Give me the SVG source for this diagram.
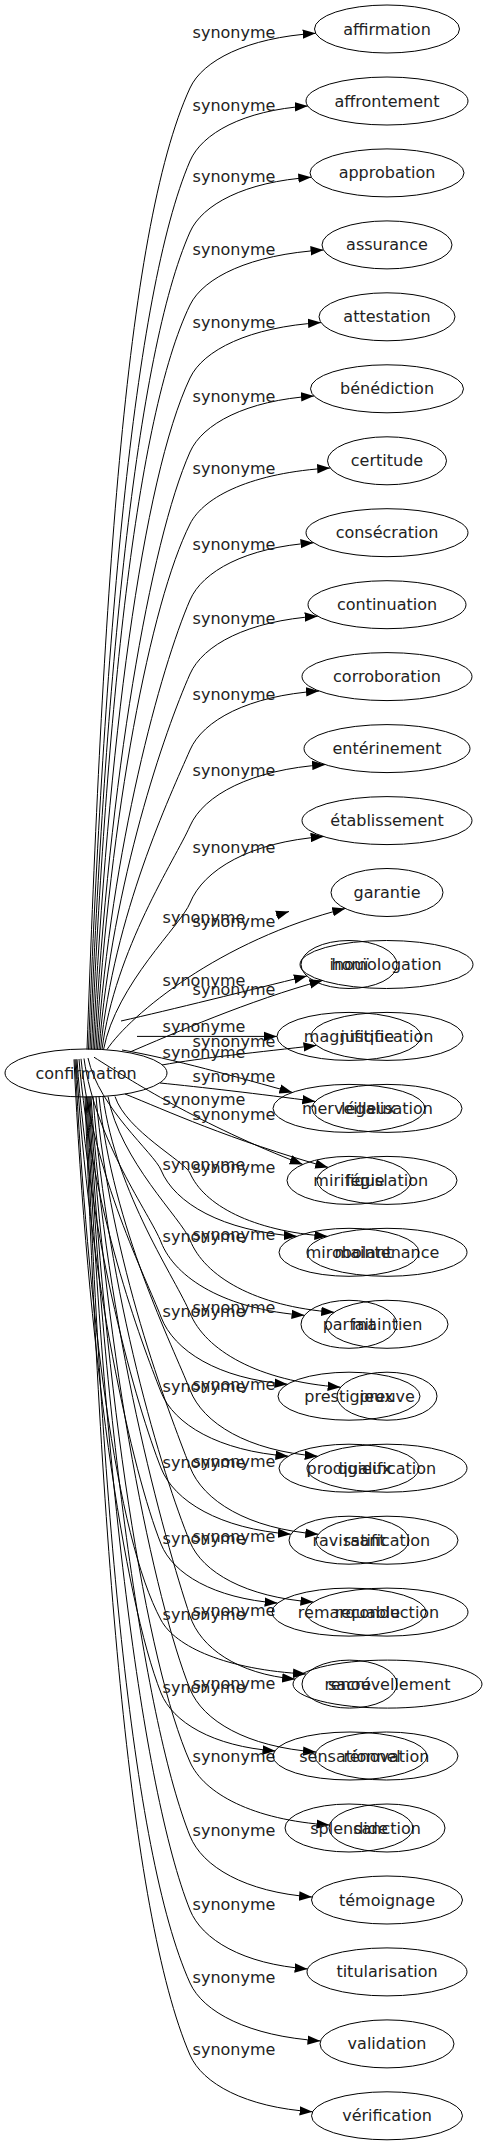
<svg xmlns="http://www.w3.org/2000/svg" width="487" height="2147" viewBox="0 0 487 2147">
<style>
ellipse{fill:none;stroke:#000;stroke-width:1}
text{font-family:"DejaVu Sans",sans-serif;font-size:16px;fill:#222;text-anchor:middle}
.e path{fill:none;stroke:#000;stroke-width:1;marker-end:url(#ah)}
</style>
<defs>
<marker id="ah" viewBox="0 0 13 10" refX="13" refY="5" markerWidth="13" markerHeight="10" markerUnits="userSpaceOnUse" orient="auto"><path d="M0,0.3 L13,5 L0,9.7 z" fill="#000"/></marker>
</defs>
<rect width="487" height="2147" fill="#fff"/>
<g id="edges" class="e">
<path d="M87,1049.5 C102.5,616.8 123.7,232.2 190,88 C202.6,60.65 246.6,37.7 315.7,33.3"/>
<path d="M88.5,1049.5 C103.7,649.7 132.9,294.3 190,161 C201.8,133.5 243,110.4 307.8,106"/>
<path d="M90,1049.5 C105,681.6 135.6,354.6 190,232 C202.1,204.7 244.6,181.7 311.3,177.3"/>
<path d="M91.5,1049.5 C106.3,714.5 135.8,416.7 190,305 C203.4,277.5 250.1,254.4 323.5,250"/>
<path d="M93,1049.5 C107.6,747.3 142.4,478.7 190,378 C203.1,350.3 249,327 321,322.6"/>
<path d="M94.5,1049.5 C108.8,780.6 150.3,541.6 190,452 C202.4,424 245.8,400.5 314,396"/>
<path d="M96,1049.5 C110.1,813 150.5,602.8 190,524 C204,496 253.1,472.5 330.2,468"/>
<path d="M97.5,1049.5 C111.4,847.2 160.9,667.4 190,600 C202.4,571.4 245.6,547.4 313.5,542.8"/>
<path d="M99,1049.5 C112.7,880.5 165.1,730.3 190,674 C202.8,645.1 247.5,620.8 317.7,616.2"/>
<path d="M100.5,1049.5 C113.9,914.7 170.4,794.9 190,750 C202.9,720.5 248,695.7 319,691"/>
<path d="M102,1049.5 C115.2,948.9 175.2,859.5 190,826 C203.5,795.3 250.8,769.5 325.1,764.6"/>
<path d="M103.5,1049.5 C116.5,983.6 181.2,925 190,903 C203.4,869.8 250.1,841.9 323.6,836.6"/>
<path d="M107,1049.5 C130,1015 220,940 345.3,908.5"/>
<path d="M130,1052 C170,1035 250,1000 322.5,980.5"/>
<path d="M162,1065 C200,1058 260,1052 316.5,1045.4"/>
<path d="M160,1083 C200,1087 260,1094 315.3,1101.4"/>
<path d="M125,1094 C165,1110 230,1140 328.2,1167.4"/>
<path d="M115,1096.5 C126.3,1130.9 185,1161.5 190,1173 C203.7,1204.7 251.8,1231.2 327.4,1236.3"/>
<path d="M108,1096.5 C120.3,1161.1 181.4,1218.5 190,1240 C204.4,1276.2 254.9,1306.5 334.2,1312.3"/>
<path d="M103,1096.5 C116.1,1193.9 176.8,1280.5 190,1313 C205.1,1350.1 257.8,1381.3 340.6,1387.2"/>
<path d="M99,1096.5 C112.7,1228.6 173,1346 190,1390 C202.8,1423.1 247.5,1450.9 317.7,1456.2"/>
<path d="M96,1096.5 C110.1,1263.2 168.8,1411.4 190,1467 C202.8,1500.6 247.7,1528.8 318.3,1534.2"/>
<path d="M93,1096.5 C107.6,1297 162.6,1475.2 190,1542 C202.3,1572 245.5,1597.3 313.4,1602.1"/>
<path d="M91,1096.5 C105.9,1330.3 164,1538.1 190,1616 C200.5,1647.6 237.3,1674.1 295.1,1679.1"/>
<path d="M90,1096.5 C105,1363.1 154.4,1600.1 190,1689 C202.6,1720.5 246.7,1747 316,1752"/>
<path d="M89,1096.5 C104.2,1396 145.8,1662.2 190,1762 C204,1793.5 252.8,1820 329.5,1825"/>
<path d="M88,1096.5 C103.3,1429.3 145.6,1725.1 190,1836 C202.2,1866.5 244.9,1892.1 312.1,1897"/>
<path d="M87,1096.5 C102.5,1462.6 141.3,1788 190,1910 C201.8,1939.5 242.9,1964.2 307.6,1968.9"/>
<path d="M86,1096.5 C101.6,1495.4 130.1,1850 190,1983 C203,2012 248.7,2036.3 320.5,2040.9"/>
<path d="M85,1096.5 C100.8,1527.8 127.9,1911.2 190,2055 C202.3,2083.4 245.2,2107.3 312.6,2111.8"/>
<path d="M276,915.5 L289,911.5"/>
<path d="M121,1021 C170,1010 250,990 306.9,976"/>
<path d="M137,1036.4 L277,1036.4"/>
<path d="M122,1050 C170,1058 240,1078 292.4,1092.4"/>
<path d="M94,1057.2 C130,1080 200,1125 302.8,1164.4"/>
<path d="M88,1058 C99,1108.4 154.1,1153.2 161,1170 C174.6,1203.2 222.1,1231 296.8,1236.3"/>
<path d="M84,1058.5 C95.6,1141.1 150.2,1214.5 161,1242 C175.4,1278.7 225.6,1309.4 304.5,1315.3"/>
<path d="M81,1058.8 C93,1175 146.4,1278.3 161,1317 C173.7,1350.6 217.9,1378.8 287.5,1384.2"/>
<path d="M79,1059 C91.3,1208.9 141.2,1342.1 161,1392 C173.7,1424.1 218.3,1451.1 288.4,1456.2"/>
<path d="M77,1059.2 C89.6,1243.2 136.9,1406.7 161,1468 C174,1501.1 219.5,1528.9 290.9,1534.2"/>
<path d="M76,1059.3 C88.8,1277.4 132.3,1471.3 161,1544 C172.7,1573.6 213.5,1598.4 277.6,1603.1"/>
<path d="M75,1059.3 C87.9,1311.6 115.8,1535.9 161,1620 C175.5,1647 226.3,1669.7 306,1674"/>
<path d="M74,1059.4 C87.1,1344.5 123.5,1598 161,1693 C172.5,1722 212.5,1746.4 275.5,1751"/>
</g>
<g id="edge-labels">
<text x="234" y="38">synonyme</text>
<text x="234" y="111">synonyme</text>
<text x="234" y="182">synonyme</text>
<text x="234" y="255">synonyme</text>
<text x="234" y="328">synonyme</text>
<text x="234" y="402">synonyme</text>
<text x="234" y="474">synonyme</text>
<text x="234" y="550">synonyme</text>
<text x="234" y="624">synonyme</text>
<text x="234" y="700">synonyme</text>
<text x="234" y="776">synonyme</text>
<text x="234" y="853">synonyme</text>
<text x="234" y="927">synonyme</text>
<text x="234" y="995">synonyme</text>
<text x="234" y="1047">synonyme</text>
<text x="234" y="1082">synonyme</text>
<text x="234" y="1120">synonyme</text>
<text x="234" y="1173">synonyme</text>
<text x="234" y="1240">synonyme</text>
<text x="234" y="1313">synonyme</text>
<text x="234" y="1390">synonyme</text>
<text x="234" y="1467">synonyme</text>
<text x="234" y="1542">synonyme</text>
<text x="234" y="1616">synonyme</text>
<text x="234" y="1689">synonyme</text>
<text x="234" y="1762">synonyme</text>
<text x="234" y="1836">synonyme</text>
<text x="234" y="1910">synonyme</text>
<text x="234" y="1983">synonyme</text>
<text x="234" y="2055">synonyme</text>
<text x="204" y="923">synonyme</text>
<text x="204" y="986">synonyme</text>
<text x="204" y="1032">synonyme</text>
<text x="204" y="1058">synonyme</text>
<text x="204" y="1105">synonyme</text>
<text x="204" y="1170">synonyme</text>
<text x="204" y="1242">synonyme</text>
<text x="204" y="1317">synonyme</text>
<text x="204" y="1392">synonyme</text>
<text x="204" y="1468">synonyme</text>
<text x="204" y="1544">synonyme</text>
<text x="204" y="1620">synonyme</text>
<text x="204" y="1693">synonyme</text>
</g>
<g id="confirmation"><ellipse cx="86" cy="1073" rx="81" ry="24"/><text x="86" y="1078.5">confirmation</text></g>
<g id="affirmation"><ellipse cx="387" cy="29" rx="72.5" ry="24"/><text x="387" y="34.5">affirmation</text></g>
<g id="affrontement"><ellipse cx="387" cy="101" rx="81" ry="24"/><text x="387" y="106.5">affrontement</text></g>
<g id="approbation"><ellipse cx="387" cy="172.9" rx="77" ry="24"/><text x="387" y="178.4">approbation</text></g>
<g id="assurance"><ellipse cx="387" cy="244.9" rx="65" ry="24"/><text x="387" y="250.4">assurance</text></g>
<g id="attestation"><ellipse cx="387" cy="316.8" rx="68" ry="24"/><text x="387" y="322.3">attestation</text></g>
<g id="benediction"><ellipse cx="387" cy="388.8" rx="76.5" ry="24"/><text x="387" y="394.3">bénédiction</text></g>
<g id="certitude"><ellipse cx="387" cy="460.8" rx="59.5" ry="24"/><text x="387" y="466.3">certitude</text></g>
<g id="consecration"><ellipse cx="387" cy="532.7" rx="81" ry="24"/><text x="387" y="538.2">consécration</text></g>
<g id="continuation"><ellipse cx="387" cy="604.7" rx="79" ry="24"/><text x="387" y="610.2">continuation</text></g>
<g id="corroboration"><ellipse cx="387" cy="676.6" rx="85" ry="24"/><text x="387" y="682.1">corroboration</text></g>
<g id="enterinement"><ellipse cx="387" cy="748.6" rx="83" ry="24"/><text x="387" y="754.1">entérinement</text></g>
<g id="etablissement"><ellipse cx="387" cy="820.6" rx="85" ry="24"/><text x="387" y="826.1">établissement</text></g>
<g id="garantie"><ellipse cx="387" cy="892.5" rx="56" ry="24"/><text x="387" y="898">garantie</text></g>
<g id="homologation"><ellipse cx="386.5" cy="964.5" rx="86.5" ry="24"/><text x="386.5" y="970">homologation</text></g>
<g id="justification"><ellipse cx="387" cy="1036.4" rx="76" ry="24"/><text x="387" y="1041.9">justification</text></g>
<g id="legalisation"><ellipse cx="387" cy="1108.4" rx="75" ry="24"/><text x="387" y="1113.9">légalisation</text></g>
<g id="legislation"><ellipse cx="387" cy="1180.4" rx="70" ry="24"/><text x="387" y="1185.9">législation</text></g>
<g id="maintenance"><ellipse cx="387" cy="1252.3" rx="80" ry="24"/><text x="387" y="1257.8">maintenance</text></g>
<g id="maintien"><ellipse cx="387" cy="1324.3" rx="61" ry="24"/><text x="387" y="1329.8">maintien</text></g>
<g id="preuve"><ellipse cx="387" cy="1396.2" rx="50" ry="24"/><text x="387" y="1401.7">preuve</text></g>
<g id="qualification"><ellipse cx="387" cy="1468.2" rx="80" ry="24"/><text x="387" y="1473.7">qualification</text></g>
<g id="ratification"><ellipse cx="387" cy="1540.2" rx="71" ry="24"/><text x="387" y="1545.7">ratification</text></g>
<g id="reconduction"><ellipse cx="387" cy="1612.1" rx="81" ry="24"/><text x="387" y="1617.6">reconduction</text></g>
<g id="renouvellement"><ellipse cx="387.5" cy="1684.1" rx="94.5" ry="24"/><text x="387.5" y="1689.6">renouvellement</text></g>
<g id="renovation"><ellipse cx="386.5" cy="1756" rx="71.5" ry="24"/><text x="386.5" y="1761.5">rénovation</text></g>
<g id="sanction"><ellipse cx="387" cy="1828" rx="58" ry="24"/><text x="387" y="1833.5">sanction</text></g>
<g id="temoignage"><ellipse cx="387" cy="1900" rx="75.5" ry="24"/><text x="387" y="1905.5">témoignage</text></g>
<g id="titularisation"><ellipse cx="387" cy="1971.9" rx="80" ry="24"/><text x="387" y="1977.4">titularisation</text></g>
<g id="validation"><ellipse cx="387" cy="2043.9" rx="67" ry="24"/><text x="387" y="2049.4">validation</text></g>
<g id="verification"><ellipse cx="387" cy="2115.8" rx="75.5" ry="24"/><text x="387" y="2121.3">vérification</text></g>
<g id="inoui"><ellipse cx="349" cy="964.5" rx="48" ry="24"/><text x="349" y="970">inouï</text></g>
<g id="magnifique"><ellipse cx="349" cy="1036.4" rx="72" ry="24"/><text x="349" y="1041.9">magnifique</text></g>
<g id="merveilleux"><ellipse cx="349" cy="1108.4" rx="76" ry="24"/><text x="349" y="1113.9">merveilleux</text></g>
<g id="mirifique"><ellipse cx="349" cy="1180.4" rx="62" ry="24"/><text x="349" y="1185.9">mirifique</text></g>
<g id="mirobolant"><ellipse cx="349" cy="1252.3" rx="70" ry="24"/><text x="349" y="1257.8">mirobolant</text></g>
<g id="parfait"><ellipse cx="349" cy="1324.3" rx="48" ry="24"/><text x="349" y="1329.8">parfait</text></g>
<g id="prestigieux"><ellipse cx="349" cy="1396.2" rx="71" ry="24"/><text x="349" y="1401.7">prestigieux</text></g>
<g id="prodigieux"><ellipse cx="349" cy="1468.2" rx="70" ry="24"/><text x="349" y="1473.7">prodigieux</text></g>
<g id="ravissant"><ellipse cx="349" cy="1540.2" rx="60" ry="24"/><text x="349" y="1545.7">ravissant</text></g>
<g id="remarquable"><ellipse cx="349" cy="1612.1" rx="77" ry="24"/><text x="349" y="1617.6">remarquable</text></g>
<g id="sacre"><ellipse cx="349.5" cy="1684.1" rx="47.5" ry="24"/><text x="349.5" y="1689.6">sacré</text></g>
<g id="sensationnel"><ellipse cx="350" cy="1756" rx="77" ry="24"/><text x="350" y="1761.5">sensationnel</text></g>
<g id="splendide"><ellipse cx="349" cy="1828" rx="64" ry="24"/><text x="349" y="1833.5">splendide</text></g>
</svg>
